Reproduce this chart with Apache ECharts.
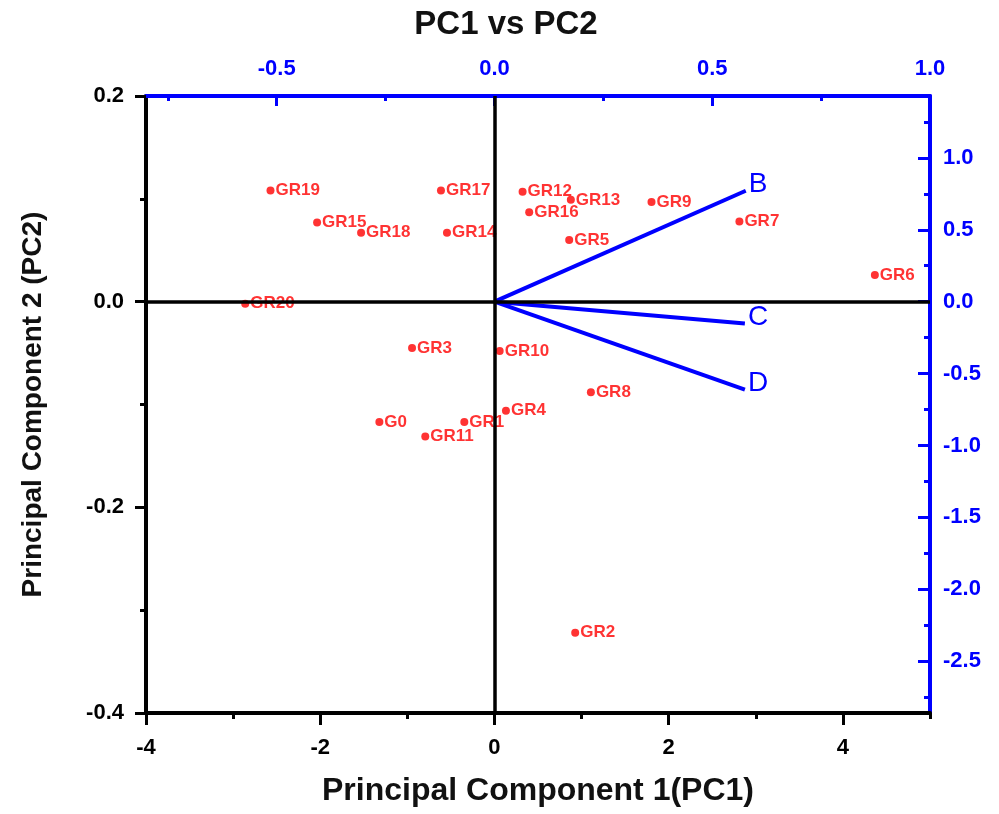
<!DOCTYPE html>
<html>
<head>
<meta charset="utf-8">
<script src="https://cdn.jsdelivr.net/npm/echarts@6/dist/echarts.min.js"></script>
<style>
html,body{margin:0;padding:0;background:#fff;}
#chart{width:999px;height:814px;}
</style>
</head>
<body>
<div id="chart"></div>
<script>
// ---- data ----
const categories = ['G0','GR1','GR2','GR3','GR4','GR5','GR6','GR7','GR8','GR9','GR10',
  'GR11','GR12','GR13','GR14','GR15','GR16','GR17','GR18','GR19','GR20'];
const pc1 = [-1.321,-0.346,0.927,-0.946,0.132,0.858,4.367,2.812,1.107,1.803,0.060,
  -0.794,0.323,0.877,-0.545,-2.036,0.399,-0.614,-1.531,-2.571,-2.861];
const pc2 = [-0.117,-0.117,-0.322,-0.045,-0.106,0.060,0.026,0.078,-0.088,0.097,-0.048,
  -0.131,0.107,0.099,0.067,0.077,0.087,0.108,0.067,0.108,-0.002];

const loadingNames = ['B','C','D'];
const loadingX = [0.577,0.575,0.575];
const loadingY = [0.771,-0.152,-0.611];

const xTicks = [-4,-2,0,2,4];
const xMinorTicks = [-3,-1,1,3,5];
const topTicks = [-0.5,0,0.5,1.0];
const topMinorTicks = [-0.75,-0.25,0.25,0.75];
const yTicks = [-0.4,-0.2,0,0.2];
const yMinorTicks = [-0.3,-0.1,0.1];
const rightTicks = [-2.5,-2.0,-1.5,-1.0,-0.5,0,0.5,1.0];
const rightMinorTicks = [-2.75,-2.25,-1.75,-1.25,-0.75,-0.25,0.25,0.75,1.25];

const X_MIN = -4, X_MAX = 5, Y_MIN = -0.4, Y_MAX = 0.2;
const TOP_MIN = -0.8, TOP_MAX = 1.0, RIGHT_MIN = -2.86, RIGHT_MAX = 1.43;

const BLUE = '#0000ff', RED = '#ff0000', BLACK = '#000000';
const tickFont = {fontFamily: 'Liberation Sans', fontWeight: 'bold', fontSize: 22};

function mainAxis(pos, min, max, color, ticks, inside, len, margin, fmt, extra) {
  return Object.assign({
    type: 'value', position: pos, min: min, max: max,
    axisLine: {show: true, onZero: false, lineStyle: {color: color, width: 4}},
    axisTick: {show: true, inside: inside, length: len, customValues: ticks,
      lineStyle: {color: color, width: 3}},
    axisLabel: Object.assign({show: true, customValues: ticks, color: color, margin: margin,
      formatter: fmt}, tickFont),
    splitLine: {show: false}
  }, extra || {});
}
function minorAxis(pos, min, max, color, ticks, inside, len) {
  return {
    type: 'value', position: pos, min: min, max: max,
    axisLine: {show: false, onZero: false},
    axisTick: {show: true, inside: inside, length: len, customValues: ticks,
      lineStyle: {color: color, width: 3}},
    axisLabel: {show: false},
    splitLine: {show: false}
  };
}

const scatterData = categories.map((c, i) => ({name: c, value: [pc1[i], pc2[i]]}));

const vectorSeries = loadingNames.map((n, i) => ({
  type: 'line', name: n, xAxisIndex: 1, yAxisIndex: 1, z: 4,
  symbol: 'none', silent: true,
  lineStyle: {color: BLUE, width: 4},
  endLabel: {show: true, formatter: n, color: BLUE,
    fontFamily: 'Liberation Sans', fontSize: 28, distance: 3, offset: [0, -6]},
  data: [[0, 0], [loadingX[i], loadingY[i]]]
}));

const option = {
  animation: false,
  backgroundColor: '#fff',
  title: {
    text: 'PC1 vs PC2', left: 501, top: 3, textAlign: 'center',
    textStyle: {fontFamily: 'Liberation Sans', fontWeight: 'bold', fontSize: 33, color: '#111'}
  },
  grid: {left: 146, right: 69, top: 96, bottom: 101, containLabel: false, outerBoundsMode: 'none'},
  xAxis: [
    mainAxis('bottom', X_MIN, X_MAX, BLACK, xTicks, false, 12, 24, v => String(v), {
      name: 'Principal Component 1(PC1)', nameLocation: 'middle', nameGap: 62,
      nameTextStyle: {fontFamily: 'Liberation Sans', fontWeight: 'bold', fontSize: 32, color: '#111'}
    }),
    mainAxis('top', TOP_MIN, TOP_MAX, BLUE, topTicks, true, 10, 16, v => v.toFixed(1)),
    minorAxis('bottom', X_MIN, X_MAX, BLACK, xMinorTicks, false, 6),
    minorAxis('top', TOP_MIN, TOP_MAX, BLUE, topMinorTicks, true, 5)
  ],
  yAxis: [
    mainAxis('left', Y_MIN, Y_MAX, BLACK, yTicks, false, 11, 22, v => v.toFixed(1), {
      name: 'Principal Component 2 (PC2)', nameLocation: 'middle', nameGap: 99, nameRotate: 90,
      nameTextStyle: {fontFamily: 'Liberation Sans', fontWeight: 'bold', fontSize: 28, color: '#111'}
    }),
    mainAxis('right', RIGHT_MIN, RIGHT_MAX, BLUE, rightTicks, true, 12, 13, v => v.toFixed(1)),
    minorAxis('left', Y_MIN, Y_MAX, BLACK, yMinorTicks, false, 6),
    minorAxis('right', RIGHT_MIN, RIGHT_MAX, BLUE, rightMinorTicks, true, 6)
  ],
  series: [
    {
      type: 'line', name: 'zero', xAxisIndex: 0, yAxisIndex: 0, z: 1, data: [], silent: true,
      markLine: {
        silent: true, symbol: ['none', 'none'], animation: false,
        label: {show: false},
        lineStyle: {color: BLACK, width: 3.5, type: 'solid'},
        emphasis: {disabled: true},
        data: [{xAxis: 0}, {yAxis: 0}]
      }
    },
    {
      type: 'scatter', name: 'samples', xAxisIndex: 0, yAxisIndex: 0, z: 3,
      symbol: 'circle', symbolSize: 8,
      itemStyle: {color: RED},
      label: {show: true, position: 'right', distance: 1, formatter: p => p.name,
        color: RED, fontFamily: 'Liberation Sans', fontWeight: 'bold', fontSize: 17},
      data: scatterData
    }
  ].concat(vectorSeries)
};

const chart = echarts.init(document.getElementById('chart'), null, {renderer: 'canvas'});
chart.setOption(option);
</script>
</body>
</html>
